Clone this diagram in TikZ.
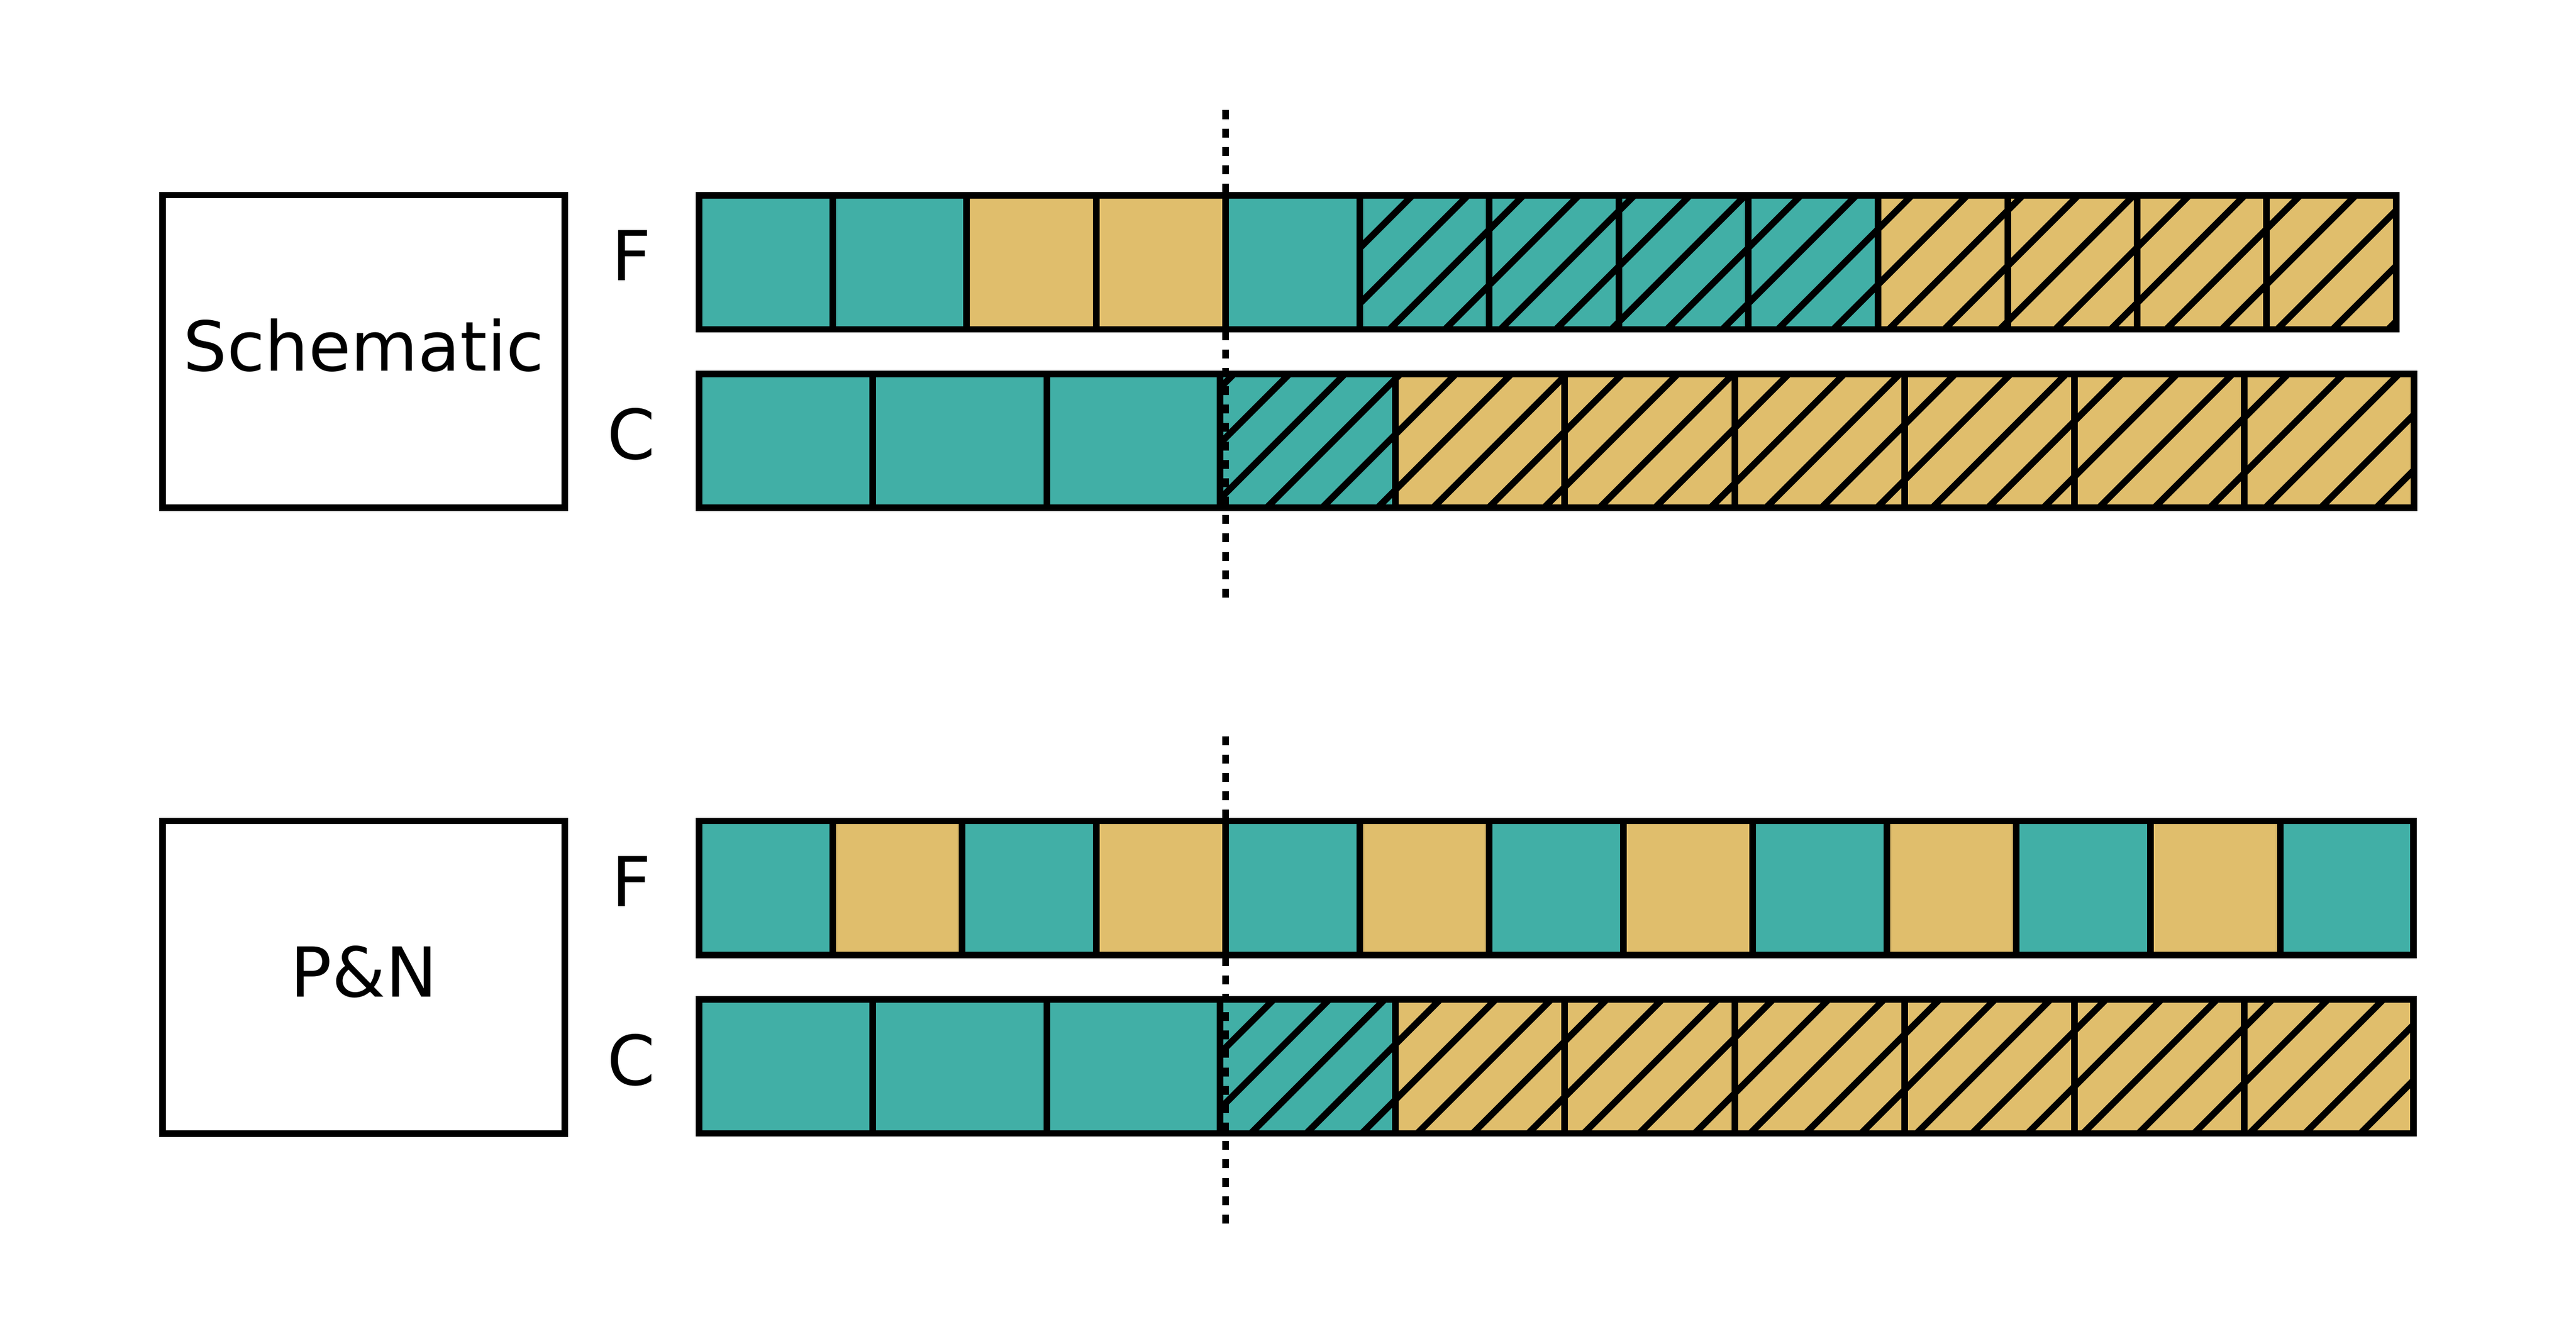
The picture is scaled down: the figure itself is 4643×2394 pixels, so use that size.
\documentclass[tikz,border=0pt]{standalone}
\usepackage{fontspec}
\setmainfont{DejaVu Sans}
\definecolor{tealc}{RGB}{65,175,166}
\definecolor{sandc}{RGB}{224,190,108}
\tikzset{
  edge/.style={draw=black, line width=0.118cm, line join=miter},
  hatchline/.style={draw=black, line width=0.118cm},
  lbl/.style={anchor=base, inner sep=0pt, font=\fontsize{35.28pt}{40pt}\selectfont},
  labelbox/.style={draw=black, line width=0.118cm, line join=miter, inner sep=0pt,
    minimum width=7.245cm, minimum height=5.631cm},
  marker/.style={draw=black, line width=0.12cm, dash pattern=on 0.16cm off 0.1715cm},
}
\newcommand\cellrow[3]{\foreach \a/\b/\c in #3 {\fill[\c] (\a,#1) rectangle (\b,#2);}}
\newcommand\edgerow[3]{\foreach \a/\b/\c in #3 {\draw[edge] (\a,#1) rectangle (\b,#2);}}
\newcommand\hatchrow[5]{%
  \begin{scope}
    \clip (#1,#3) rectangle (#2,#4);
    \foreach \s in {#5} {\draw[hatchline] (\s-#4,#4) -- (\s-#3,#3);}
  \end{scope}}
\newcommand\topF{1260/1501/tealc, 1501/1742/tealc, 1742/1976/sandc, 1976/2209/sandc, 2209/2451/tealc, 2451/2684/tealc, 2684/2918/tealc, 2918/3151/tealc, 3151/3385/tealc, 3385/3619/sandc, 3619/3852/sandc, 3852/4085/sandc, 4085/4319/sandc}
\newcommand\topC{1260/1573/tealc, 1573/1887/tealc, 1887/2199/tealc, 2199/2515/tealc, 2515/2820/sandc, 2820/3127/sandc, 3127/3433/sandc, 3433/3739/sandc, 3739/4045/sandc, 4045/4351/sandc}
\newcommand\botF{1260/1501/tealc, 1501/1734/sandc, 1734/1976/tealc, 1976/2209/sandc, 2209/2451/tealc, 2451/2684/sandc, 2684/2926/tealc, 2926/3159/sandc, 3159/3401/tealc, 3401/3634/sandc, 3634/3876/tealc, 3876/4110/sandc, 4110/4350/tealc}
\newcommand\botC{1260/1573/tealc, 1573/1887/tealc, 1887/2199/tealc, 2199/2515/tealc, 2515/2820/sandc, 2820/3127/sandc, 3127/3433/sandc, 3433/3739/sandc, 3739/4045/sandc, 4045/4350/sandc}
\begin{document}
\begin{tikzpicture}[x=0.01cm, y=-0.01cm]
  \useasboundingbox[fill=white] (0,0) rectangle (4643,2394);

  % fills
  \cellrow{351.6}{593.4}{\topF}
  \cellrow{673.8}{915}{\topC}
  \cellrow{1479.5}{1720.6}{\botF}
  \cellrow{1801}{2042.4}{\botC}

  % hatching
  \hatchrow{2451}{4319}{351.6}{593.4}{2798,2898,...,4998}
  \hatchrow{2199}{4351}{673.8}{915}{2798,2898,...,5298}
  \hatchrow{2199}{4350}{1801}{2042.4}{3997,4097,...,6397}

  % cell edges
  \edgerow{351.6}{593.4}{\topF}
  \edgerow{673.8}{915}{\topC}
  \edgerow{1479.5}{1720.6}{\botF}
  \edgerow{1801}{2042.4}{\botC}

  % label boxes
  \node[labelbox] (schbox) at (655.75,633.25) {};
  \node[labelbox] (pnbox) at (655.75,1761.15) {};
  \node[lbl] (schtxt) at (655.75,668) {Schematic};
  \node[lbl] (pntxt) at (655.75,1796) {P\&N};

  % row labels
  \node[lbl] (f1) at (1138,505.5) {F};
  \node[lbl] (c1) at (1138,827.4) {C};
  \node[lbl] (f2) at (1138,1633.5) {F};
  \node[lbl] (c2) at (1138,1955.3) {C};

  % dotted markers
  \coordinate (d1a) at (2209,198.5);
  \coordinate (d1b) at (2209,1076.5);
  \coordinate (d2a) at (2209,1326.5);
  \coordinate (d2b) at (2209,2204.5);
  \draw[marker] (d1a) -- (d1b);
  \draw[marker] (d2a) -- (d2b);
\end{tikzpicture}
\end{document}
